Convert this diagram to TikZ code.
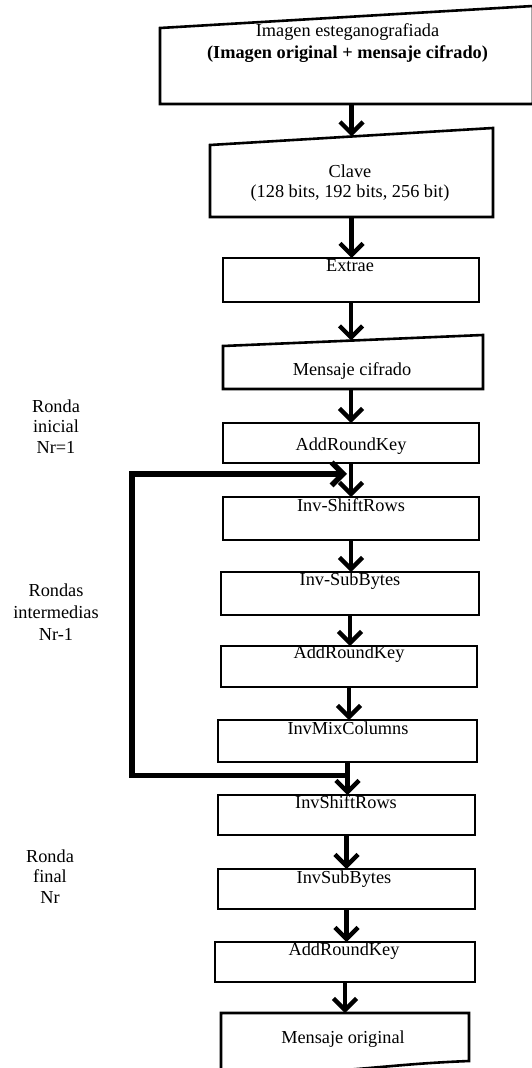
\documentclass[tikz,border=0pt]{standalone}
\usepackage{fontspec}
\setmainfont{Liberation Serif}
\usetikzlibrary{arrows.meta,calc}
\tikzset{
  slot/.style={inner sep=0pt, outer sep=0pt},
  boxline/.style={line width=2.6pt, line join=miter},
  box/.style={draw, line width=2.6pt, inner sep=0pt, outer sep=0pt},
  txt/.style={inner sep=0pt, font=\fontsize{18.3}{21}\selectfont},
  arr/.style={line width=4.4pt, -{Straight Barb[length=11.5pt,width=23pt]}},
  loopline/.style={line width=5.5pt, line join=miter, -{Straight Barb[length=11.5pt,width=23pt]}}
}
\begin{document}
\begin{tikzpicture}[x=1pt,y=-1pt]
\useasboundingbox (0,0) rectangle (531,1068);

% manual-input shapes (slanted top)
\node[slot, minimum width=373pt, minimum height=87pt] (img) at (346.5,60.5) {};
\draw[boxline] (img.south west) -- (img.south east) -- ([yshift=11pt]img.north east) -- ([yshift=-11pt]img.north west) -- cycle;

\node[slot, minimum width=283pt, minimum height=80.5pt] (clave) at (351.5,176.75) {};
\draw[boxline] (clave.south west) -- (clave.south east) -- ([yshift=8.5pt]clave.north east) -- ([yshift=-8.5pt]clave.north west) -- cycle;

\node[box, minimum width=256pt, minimum height=44pt] (extrae) at (351,280) {};

\node[slot, minimum width=260pt, minimum height=48.5pt] (mc) at (353,364.75) {};
\draw[boxline] (mc.south west) -- (mc.south east) -- ([yshift=5.5pt]mc.north east) -- ([yshift=-5.5pt]mc.north west) -- cycle;

% rectangles
\node[box, minimum width=256pt, minimum height=40pt] (ark1) at (351,443) {};
\node[box, minimum width=256pt, minimum height=43pt] (isr1) at (351,518.5) {};
\node[box, minimum width=258pt, minimum height=43pt] (isb1) at (350,593.5) {};
\node[box, minimum width=256pt, minimum height=41pt] (ark2) at (349,666.5) {};
\node[box, minimum width=259pt, minimum height=42pt] (imc) at (347.5,741) {};
\node[box, minimum width=257pt, minimum height=40pt] (isr2) at (346.5,815) {};
\node[box, minimum width=257pt, minimum height=40pt] (isb2) at (346.5,889) {};
\node[box, minimum width=260pt, minimum height=40pt] (ark3) at (345,962) {};

% document shape
\node[slot, minimum width=248pt, minimum height=48pt] (morig) at (345,1037) {};
\draw[boxline] (morig.south west) -- (morig.north west) -- (morig.north east) -- (morig.south east)
  .. controls +(-50,2) and +(50,-4) .. ([yshift=-9pt]morig.south)
  .. controls +(-50,4) and +(40,-2) .. ([yshift=-14pt]morig.south west) -- cycle;

% texts
\node[txt, align=center, anchor=north, font=\fontsize{18.3}{22}\selectfont] at (347.5,23) {Imagen esteganografiada\\\textbf{(Imagen original + mensaje cifrado)}};
\node[txt, align=center, anchor=north, font=\fontsize{18.3}{20}\selectfont] at (350,164.5) {Clave\\(128 bits, 192 bits, 256 bit)};
\node[txt, anchor=base] at (350,271) {Extrae};
\node[txt, anchor=base] at (352,375) {Mensaje cifrado};
\node[txt, anchor=base] at (351,450) {AddRoundKey};
\node[txt, anchor=base] at (351,511) {Inv-ShiftRows};
\node[txt, anchor=base] at (350,585) {Inv-SubBytes};
\node[txt, anchor=base] at (349,658) {AddRoundKey};
\node[txt, anchor=base] at (348,734) {InvMixColumns};
\node[txt, anchor=base] at (346,808) {InvShiftRows};
\node[txt, anchor=base] at (344,883) {InvSubBytes};
\node[txt, anchor=base] at (344,955) {AddRoundKey};
\node[txt, anchor=base] at (343,1043) {Mensaje original};

% side labels
\node[txt, align=center, anchor=north, font=\fontsize{18.3}{20.5}\selectfont] (l1) at (56,399.5) {Ronda\\inicial\\Nr=1};
\node[txt, align=center, anchor=north, font=\fontsize{18.3}{22}\selectfont] (l2) at (56,583.5) {Rondas\\intermedias\\Nr-1};
\node[txt, align=center, anchor=north, font=\fontsize{18.3}{20.5}\selectfont] (l3) at (50,849.5) {Ronda\\final\\Nr};

% arrows
\draw[arr] (img.south -| clave.north) -- (clave.north);
\draw[arr] (clave.south) -- (clave.south |- extrae.north);
\draw[arr] (extrae.south) -- (extrae.south |- mc.north);
\draw[arr] (mc.south -| ark1.north) -- (ark1.north);
\draw[arr] (ark1.south) -- (isr1.north);
\draw[arr] (isr1.south) -- (isr1.south |- isb1.north);
\draw[arr] (isb1.south) -- (isb1.south |- ark2.north);
\draw[arr] (ark2.south) -- (ark2.south |- imc.north);
\draw[arr] (imc.south) -- (imc.south |- isr2.north);
\draw[arr] (isr2.south) -- (isb2.north);
\draw[arr] (isb2.south) -- (isb2.south |- ark3.north);
\draw[arr] (ark3.south) -- (ark3.south |- morig.north);

% loop
\coordinate (lpB) at ($(imc.south)!0.41!(isr2.north)$);
\coordinate (lpT) at ($(ark1.south)!0.32!(isr1.north)$);
\coordinate (lpL) at (132,0);
\draw[loopline] (lpB) -- (lpB -| lpL) -- (lpT -| lpL) -- ([xshift=-4pt]lpT);
\end{tikzpicture}
\end{document}
